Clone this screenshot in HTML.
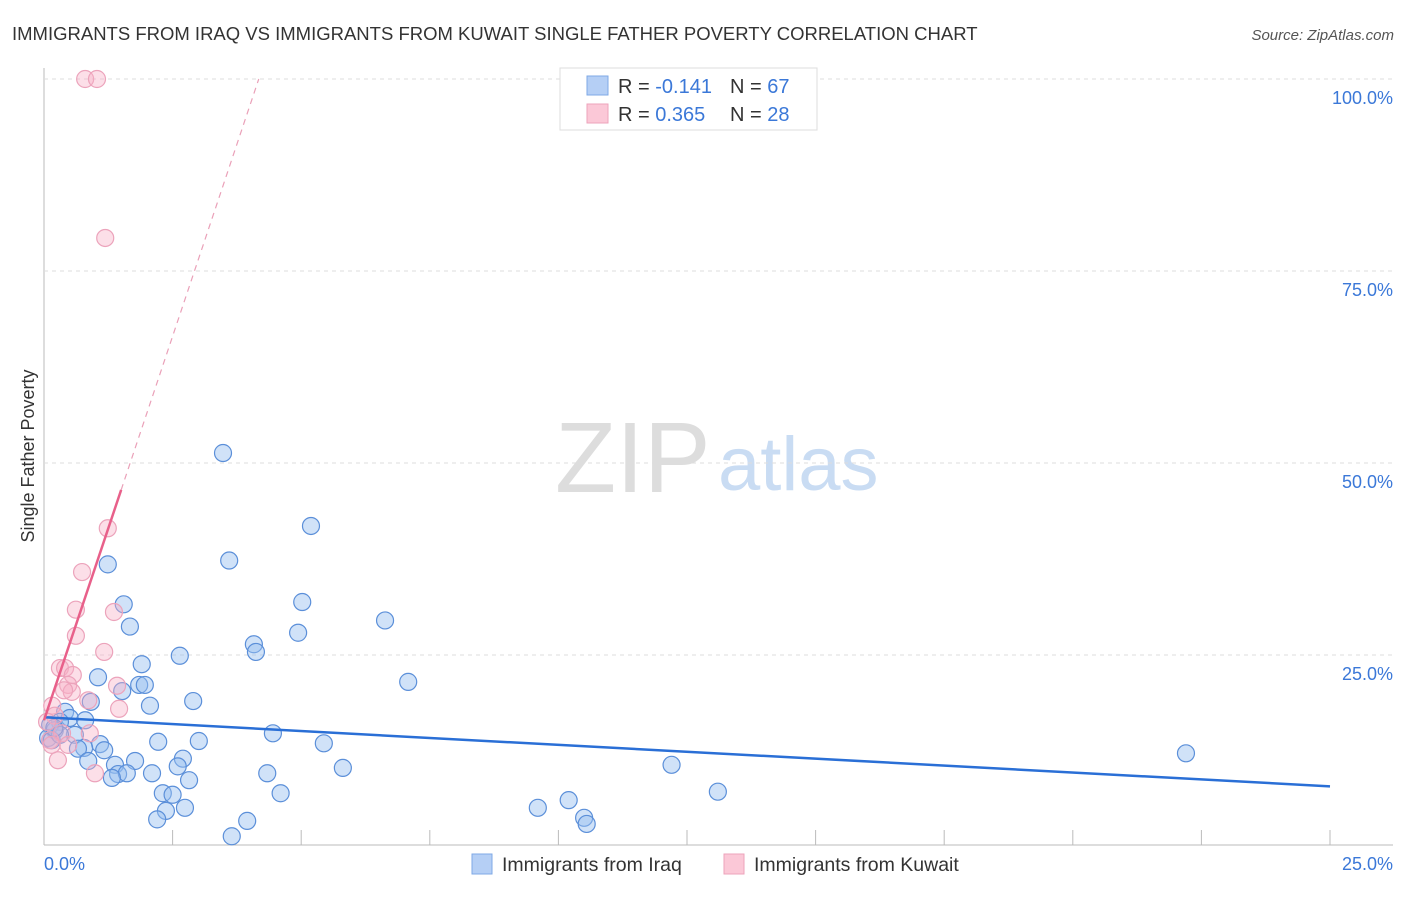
<!DOCTYPE html>
<html><head><meta charset="utf-8"><style>
body{margin:0;background:#fff;font-family:"Liberation Sans",sans-serif}
svg text{font-family:"Liberation Sans",sans-serif}
</style></head><body>
<svg id="c" width="1406" height="892" xmlns="http://www.w3.org/2000/svg">
<text x="12" y="40" font-size="18.5" fill="#333">IMMIGRANTS FROM IRAQ VS IMMIGRANTS FROM KUWAIT SINGLE FATHER POVERTY CORRELATION CHART</text>
<text x="1394" y="40" font-size="15" fill="#555" font-style="italic" text-anchor="end">Source: ZipAtlas.com</text>
<text x="555" y="492" font-size="100" fill="#ddd" font-family="Liberation Serif,serif">ZIP</text>
<text x="718" y="490" font-size="76" fill="#c9dcf3">atlas</text>
<text transform="translate(34,456) rotate(-90)" font-size="18" fill="#333" text-anchor="middle">Single Father Poverty</text>
<g id="grid"></g><g id="pts"></g><g id="lines"></g>
<g>
<rect x="560" y="68" width="257" height="62" fill="#fff" stroke="#ddd"/>
<rect x="587" y="76" width="21" height="19" fill="#b5cff5" stroke="#7fa9e6"/>
<rect x="587" y="104" width="21" height="19" fill="#fbc8d7" stroke="#eea3bb"/>
<text x="618" y="93" font-size="20" fill="#333">R = <tspan fill="#3b78d8">-0.141</tspan></text>
<text x="730" y="93" font-size="20" fill="#333">N = <tspan fill="#3b78d8">67</tspan></text>
<text x="618" y="121" font-size="20" fill="#333">R = <tspan fill="#3b78d8"> 0.365</tspan></text>
<text x="730" y="121" font-size="20" fill="#333">N = <tspan fill="#3b78d8">28</tspan></text>
</g>
<g>
<rect x="472" y="854" width="20" height="20" fill="#b5cff5" stroke="#7fa9e6"/>
<text x="502" y="871" font-size="19.5" fill="#333">Immigrants from Iraq</text>
<rect x="724" y="854" width="20" height="20" fill="#fbc8d7" stroke="#eea3bb"/>
<text x="754" y="871" font-size="19.5" fill="#333">Immigrants from Kuwait</text>
</g>
</svg>
<script>
const yTicks=[25,50,75,100];
const yTickLabels=["25.0%","50.0%","75.0%","100.0%"];
const xTicks=[0,2.5,5,7.5,10,12.5,15,17.5,20,22.5,25];
const iraqX=[3.48,5.19,3.6,1.24,5.02,1.55,6.63,1.67,4.94,4.08,4.12,2.64,1.9,1.05,7.08,1.85,1.96,1.52,2.9,0.91,2.06,0.41,0.5,0.8,0.31,0.12,0.21,4.45,0.6,2.22,3.01,5.44,1.09,0.78,0.66,1.17,2.7,2.6,0.86,1.77,1.38,22.2,12.2,5.81,2.1,4.34,1.44,1.61,1.32,2.82,13.1,2.31,2.5,4.6,10.2,9.6,2.74,2.37,10.5,2.2,3.95,10.55,3.65,0.08,0.15,0.31,0.2];
const iraqY=[51.3,41.8,37.3,36.8,31.9,31.6,29.5,28.7,27.9,26.4,25.4,24.9,23.8,22.1,21.5,21.1,21.1,20.3,19.0,18.9,18.4,17.6,16.8,16.5,16.3,15.9,15.2,14.8,14.6,13.7,13.8,13.5,13.4,12.9,12.8,12.6,11.5,10.5,11.2,11.2,10.7,12.2,10.7,10.3,9.6,9.6,9.5,9.6,9.0,8.7,7.2,7.0,6.8,7.0,6.1,5.1,5.1,4.7,3.8,3.6,3.4,3.0,1.4,14.2,13.9,14.6,15.5];
const kuwaitX=[0.8,1.03,1.19,1.24,0.74,0.62,1.36,0.62,1.17,0.31,0.41,0.56,0.47,0.54,0.39,1.42,0.86,1.46,0.16,0.21,0.12,0.35,0.89,0.27,0.99,0.06,0.15,0.47];
const kuwaitY=[100,100,79.3,41.5,35.8,30.9,30.6,27.5,25.4,23.3,23.3,22.4,21.1,20.2,20.4,21.0,19.1,18.0,18.4,17.1,13.9,14.8,14.8,11.3,9.6,16.3,13.3,13.3];
const iraqTrend=[16.9,7.9];
const kuwaitTrend=[16.5,20.0]; // intercept, slope
const NS="http://www.w3.org/2000/svg";
const X=v=>44+v*51.44, Y=v=>847-v*7.68;
function mk(t,a,p){const e=document.createElementNS(NS,t);for(const k in a)e.setAttribute(k,a[k]);p.appendChild(e);return e;}
const g=document.getElementById('grid');
let ax=mk('line',{x1:44,y1:68,x2:44,y2:845,stroke:'#bbb'},g);


let bx=mk('line',{x1:44,y1:845,x2:1393,y2:845,stroke:'#bbb'},g);


yTicks.forEach((t,i)=>{
 let l=mk('line',{x1:44,y1:Y(t),x2:1393,y2:Y(t),stroke:'#ddd','stroke-dasharray':'4,4'},g);
 
 
 let tx=mk('text',{x:1393,y:Y(t)+25,'font-size':18,fill:'#3b78d8','text-anchor':'end'},g);
 tx.textContent=yTickLabels[i];
 
 
});
xTicks.forEach(t=>{
 let l=mk('line',{x1:X(t),y1:830,x2:X(t),y2:845,stroke:'#bbb'},g);
 
 
});
let x0=mk('text',{x:44,y:870,'font-size':18,fill:'#3b78d8'},g);x0.textContent='0.0%';


let x1=mk('text',{x:1393,y:870,'font-size':18,fill:'#3b78d8','text-anchor':'end'},g);x1.textContent='25.0%';


const p=document.getElementById('pts');
iraqX.forEach((v,i)=>{
 let c=mk('circle',{cx:X(v),cy:Y(iraqY[i]),r:8.5,fill:'rgba(150,190,240,0.45)',stroke:'#5b8fd9','stroke-width':1.2},p);
 
 
});
kuwaitX.forEach((v,i)=>{
 let c=mk('circle',{cx:X(v),cy:Y(kuwaitY[i]),r:8.5,fill:'rgba(247,175,198,0.4)',stroke:'#eca3bb','stroke-width':1.2},p);
 
 
});
const L=document.getElementById('lines');
let tl=mk('line',{x1:X(0),y1:Y(iraqTrend[0]),x2:X(25),y2:Y(iraqTrend[1]),stroke:'#2a6fd6','stroke-width':2.5},L);


const kf=x=>kuwaitTrend[0]+kuwaitTrend[1]*x;
let ks=mk('line',{x1:X(0),y1:Y(kf(0)),x2:X(1.5),y2:Y(kf(1.5)),stroke:'#e8608a','stroke-width':2.5},L);


const xe=(100-kuwaitTrend[0])/kuwaitTrend[1];
let kd=mk('line',{x1:X(1.5),y1:Y(kf(1.5)),x2:X(xe),y2:Y(100),stroke:'#eaa0b8','stroke-width':1.2,'stroke-dasharray':'6,5'},L);


</script>
</body></html>
